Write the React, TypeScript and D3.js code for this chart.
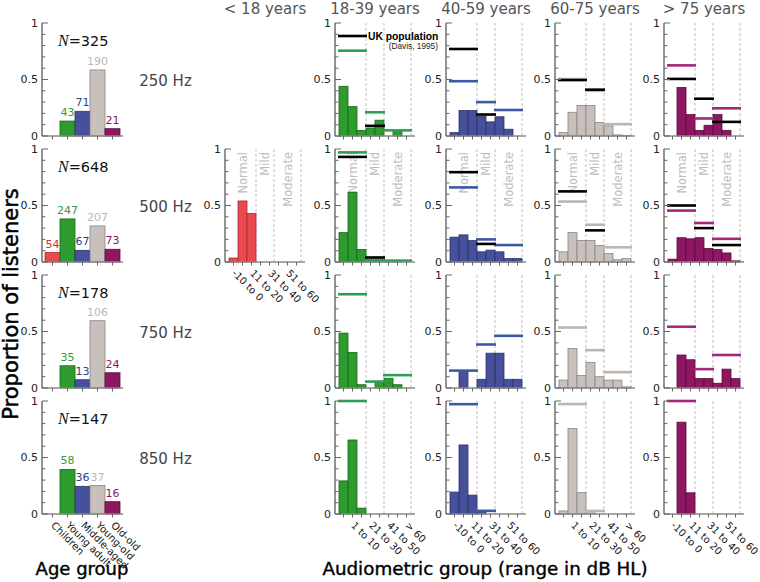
import React from "react";
import * as d3 from "d3";

// ---------- data ----------
const ageGroups = ["Children", "Young adult", "Middle-aged", "Young-old", "Old-old"];
const frequencies = ["250 Hz", "500 Hz", "750 Hz", "850 Hz"];
const totalN = [325, 648, 178, 147];
const ageCounts250 = [null, 43, 71, 190, 21];
const ageCounts500 = [54, 247, 67, 207, 73];
const ageCounts750 = [null, 35, 13, 106, 24];
const ageCounts850 = [null, 58, 36, 37, 16];

const ageColumns = ["< 18 years", "18-39 years", "40-59 years", "60-75 years", "> 75 years"];
const audioBins = ["-10 to 0", "1 to 10", "11 to 20", "21 to 30", "31 to 40", "41 to 50", "51 to 60", "> 60"];
const hearingCategories = ["Normal", "Mild", "Moderate"];
const categoryBins = [["-10 to 0", "11 to 20"], ["21 to 30", "31 to 40"], ["41 to 50", "> 60"]];

// histograms (proportion of listeners per audiometric bin)
const h500_u18 = [0.035, 0.54, 0.43, 0, 0, 0, 0, 0];

const h250_18_39 = [0.44, 0.26, 0.05, 0.07, 0.14, 0, 0.05, 0];
const h250_40_59 = [0.03, 0.225, 0.225, 0.175, 0.125, 0.17, 0.06, 0];
const h250_60_75 = [0.03, 0.21, 0.27, 0.27, 0.12, 0.09, 0.01, 0.005];
const h250_75p = [0, 0.43, 0.19, 0.05, 0.095, 0.19, 0.05, 0];

const h500_18_39 = [0.26, 0.615, 0.11, 0.02, 0.02, 0.01, 0.01, 0];
const h500_40_59 = [0.22, 0.24, 0.19, 0.09, 0.105, 0.09, 0.03, 0.03];
const h500_60_75 = [0.09, 0.26, 0.19, 0.19, 0.145, 0.075, 0.02, 0.03];
const h500_75p = [0.025, 0.215, 0.205, 0.215, 0.12, 0.11, 0.08, 0.01];

const h750_18_39 = [0.486, 0.314, 0.029, 0, 0.057, 0.086, 0.029, 0];
const h750_40_59 = [0, 0.154, 0, 0.077, 0.308, 0.308, 0.077, 0.077];
const h750_60_75 = [0.07, 0.35, 0.11, 0.225, 0.1, 0.07, 0.07, 0.01];
const h750_75p = [0, 0.292, 0.25, 0.083, 0.083, 0.042, 0.167, 0.083];

const h850_18_39 = [0.293, 0.655, 0.052, 0, 0, 0, 0, 0];
const h850_40_59 = [0.194, 0.611, 0.167, 0.028, 0, 0, 0, 0];
const h850_60_75 = [0.027, 0.757, 0.189, 0.027, 0, 0, 0, 0];
const h850_75p = [0, 0.8125, 0.1875, 0, 0, 0, 0, 0];

// category proportions: this study [Normal, Mild, Moderate]
const s250_18_39 = [0.755, 0.21, 0.05];
const s250_40_59 = [0.485, 0.3, 0.23];
const s250_60_75 = [0.505, 0.4, 0.105];
const s250_75p = [0.625, 0.155, 0.245];
const s500_18_39 = [0.97, 0.02, 0.012];
const s500_40_59 = [0.66, 0.2, 0.15];
const s500_60_75 = [0.535, 0.33, 0.13];
const s500_75p = [0.455, 0.345, 0.205];
const s750_18_39 = [0.83, 0.057, 0.114];
const s750_40_59 = [0.154, 0.385, 0.462];
const s750_60_75 = [0.535, 0.335, 0.14];
const s750_75p = [0.542, 0.167, 0.292];
const s850_18_39 = [1.0, null, null];
const s850_40_59 = [0.972, 0.028, null];
const s850_60_75 = [0.973, 0.027, null];
const s850_75p = [1.0, null, null];

// UK population (Davis, 1995) [Normal, Mild, Moderate]
const uk250_18_39 = [0.885, 0.09, null];
const uk250_40_59 = [0.77, 0.19, null];
const uk250_60_75 = [0.495, 0.41, null];
const uk250_75p = [0.505, 0.33, 0.125];
const uk500_18_39 = [0.93, 0.04, null];
const uk500_40_59 = [0.795, 0.16, null];
const uk500_60_75 = [0.625, 0.28, null];
const uk500_75p = [0.5, 0.3, 0.15];

// ---------- styling ----------
const barFill = ["#e84a50", "#2e9b2e", "#47519b", "#c7c0bc", "#8e1762"];
const barStroke = ["#a52c32", "#1c641c", "#2b3268", "#8c8581", "#5a0c3e"];
const lineColor = ["#e84a50", "#2e9d58", "#3b5aa6", "#bcb6b2", "#a4277a"];
const countColor = ["#d8283a", "#2e9b4a", "#2b3f8e", "#bdb7b3", "#8e1762"];

const FONT = "DejaVu Sans, sans-serif";
const ROW_BASE = [136, 262, 388, 514];
const PANEL_H = 113;
const COL_X = [225, 335, 446, 555, 664];
const AGE_X = 42;

const ageCountsByRow = [ageCounts250, ageCounts500, ageCounts750, ageCounts850];

const panels = [
  { row: 1, col: 0, hist: h500_u18, study: null, uk: null },
  { row: 0, col: 1, hist: h250_18_39, study: s250_18_39, uk: uk250_18_39 },
  { row: 0, col: 2, hist: h250_40_59, study: s250_40_59, uk: uk250_40_59 },
  { row: 0, col: 3, hist: h250_60_75, study: s250_60_75, uk: uk250_60_75 },
  { row: 0, col: 4, hist: h250_75p, study: s250_75p, uk: uk250_75p },
  { row: 1, col: 1, hist: h500_18_39, study: s500_18_39, uk: uk500_18_39 },
  { row: 1, col: 2, hist: h500_40_59, study: s500_40_59, uk: uk500_40_59 },
  { row: 1, col: 3, hist: h500_60_75, study: s500_60_75, uk: uk500_60_75 },
  { row: 1, col: 4, hist: h500_75p, study: s500_75p, uk: uk500_75p },
  { row: 2, col: 1, hist: h750_18_39, study: s750_18_39, uk: null },
  { row: 2, col: 2, hist: h750_40_59, study: s750_40_59, uk: null },
  { row: 2, col: 3, hist: h750_60_75, study: s750_60_75, uk: null },
  { row: 2, col: 4, hist: h750_75p, study: s750_75p, uk: null },
  { row: 3, col: 1, hist: h850_18_39, study: s850_18_39, uk: null },
  { row: 3, col: 2, hist: h850_40_59, study: s850_40_59, uk: null },
  { row: 3, col: 3, hist: h850_60_75, study: s850_60_75, uk: null },
  { row: 3, col: 4, hist: h850_75p, study: s850_75p, uk: null },
];

function YAxis({ x0, y }: { x0: number; y: any }) {
  const ticks = d3.range(0, 11).map((i) => i / 10);
  return (
    <g>
      <line x1={x0} x2={x0} y1={y(1)} y2={y(0)} stroke="#666" strokeWidth={1.4} />
      {ticks.map((t, i) => {
        const major = i % 5 === 0;
        return (
          <line key={i} x1={x0} x2={x0 + (major ? 6 : 3.5)} y1={y(t)} y2={y(t)} stroke="#666" strokeWidth={1} />
        );
      })}
      {[0, 0.5, 1].map((t) => (
        <text key={t} x={x0 - 4} y={y(t)} dy="0.35em" textAnchor="end" fontSize={11} fontFamily={FONT} fill="#222">
          {t === 0.5 ? "0.5" : String(t)}
        </text>
      ))}
    </g>
  );
}

function AudioPanel({ p }: { p: any }) {
  const x0 = COL_X[p.col];
  const base = ROW_BASE[p.row];
  const y = d3.scaleLinear().domain([0, 1]).range([base, base - PANEL_H]);
  const x = d3.scaleBand().domain(audioBins).range([x0 + 4, x0 + 76]).padding(0);
  const bw = x.bandwidth();
  const catStart = categoryBins.map((c) => x(c[0]) as number);
  const catEnd = categoryBins.map((c) => (x(c[1]) as number) + bw);
  const showCat = p.row === 1;
  const bottom = p.row === 3 || p.col === 0;
  const labelOdd = p.col === 1 || p.col === 3;
  return (
    <g>
      {catEnd.map((xe, i) => (
        <line key={"d" + i} x1={xe} x2={xe} y1={y(1)} y2={y(0)} stroke="#b8b8b8" strokeWidth={0.9} strokeDasharray="3,2" />
      ))}
      {showCat &&
        hearingCategories.map((c, i) => (
          <text
            key={c}
            transform={`translate(${(catStart[i] + catEnd[i]) / 2},${y(1) + 3}) rotate(-90)`}
            textAnchor="end"
            dominantBaseline="central"
            fontSize={11.5}
            fontFamily={FONT}
            fill="#bdbdbd"
          >
            {c}
          </text>
        ))}
      {p.hist.map((v: number, i: number) =>
        v > 0 ? (
          <rect
            key={"b" + i}
            x={x(audioBins[i])}
            y={y(v)}
            width={bw}
            height={y(0) - y(v)}
            fill={barFill[p.col]}
            stroke={barStroke[p.col]}
            strokeWidth={0.8}
          />
        ) : null
      )}
      {p.study &&
        p.study.map((v: number | null, i: number) =>
          v === null ? null : (
            <line key={"s" + i} x1={catStart[i] - 1} x2={catEnd[i] + 1} y1={y(v)} y2={y(v)} stroke={lineColor[p.col]} strokeWidth={2.6} />
          )
        )}
      {p.uk &&
        p.uk.map((v: number | null, i: number) =>
          v === null ? null : (
            <line key={"u" + i} x1={catStart[i] - 1} x2={catEnd[i] + 1} y1={y(v)} y2={y(v)} stroke="#000" strokeWidth={2.6} />
          )
        )}
      <line x1={x0} x2={x0 + 80} y1={y(0)} y2={y(0)} stroke="#888" strokeWidth={1.6} />
      {audioBins.map((b) => (
        <line key={"t" + b} x1={(x(b) as number) + bw / 2} x2={(x(b) as number) + bw / 2} y1={y(0)} y2={y(0) + 3.5} stroke="#666" strokeWidth={1} />
      ))}
      <YAxis x0={x0} y={y} />
      {bottom &&
        audioBins.map((b, i) =>
          (i % 2 === 1) === labelOdd ? (
            <text
              key={"l" + b}
              transform={`translate(${(x(b) as number) + bw / 2 - 2},${y(0) + 12}) rotate(45)`}
              fontSize={10}
              fontFamily={FONT}
              fill="#111"
            >
              {b}
            </text>
          ) : null
        )}
    </g>
  );
}

function AgePanel({ row }: { row: number }) {
  const base = ROW_BASE[row];
  const y = d3.scaleLinear().domain([0, 1]).range([base, base - PANEL_H]);
  const x = d3.scaleBand().domain(ageGroups).range([AGE_X + 3, AGE_X + 78]).padding(0);
  const bw = x.bandwidth();
  const counts = ageCountsByRow[row];
  const N = totalN[row];
  return (
    <g>
      {counts.map((c, i) => {
        if (c === null) return null;
        const v = c / N;
        const bx = x(ageGroups[i]) as number;
        return (
          <g key={i}>
            <rect x={bx} y={y(v)} width={bw} height={y(0) - y(v)} fill={barFill[i]} stroke={barStroke[i]} strokeWidth={0.8} />
            <text x={bx + bw / 2} y={y(v) - 5} textAnchor="middle" fontSize={11} fontFamily={FONT} fill={countColor[i]}>
              {c}
            </text>
          </g>
        );
      })}
      <line x1={AGE_X} x2={AGE_X + 81} y1={y(0)} y2={y(0)} stroke="#888" strokeWidth={1.6} />
      {ageGroups.map((g) => (
        <line key={g} x1={(x(g) as number) + bw / 2} x2={(x(g) as number) + bw / 2} y1={y(0)} y2={y(0) + 3.5} stroke="#666" strokeWidth={1} />
      ))}
      <YAxis x0={AGE_X} y={y} />
      <text x={58} y={y(1) + 23} fontSize={14.5} fontFamily={FONT} fill="#111">
        <tspan fontStyle="italic" fontFamily="Liberation Serif, serif" fontSize={16}>N</tspan>
        {"=" + N}
      </text>
      <text x={165.5} y={y(1) + 63} textAnchor="middle" fontSize={15} fontFamily={FONT} fill="#444">
        {frequencies[row]}
      </text>
      {row === 3 &&
        ageGroups.map((g) => (
          <text
            key={"l" + g}
            transform={`translate(${(x(g) as number) + bw / 2 - 2},${y(0) + 12}) rotate(45)`}
            fontSize={10}
            fontFamily={FONT}
            fill="#111"
          >
            {g}
          </text>
        ))}
    </g>
  );
}

export default function App() {
  return (
    <svg width={760} height={582} style={{ display: "block", position: "absolute", left: 0, top: 0, background: "#fff" }}>
      <rect width={760} height={582} fill="#fff" />
      {ageColumns.map((c, i) => (
        <text key={c} x={COL_X[i] + 40} y={13.5} textAnchor="middle" fontSize={15} fontFamily={FONT} fill="#555">
          {c}
        </text>
      ))}
      {[0, 1, 2, 3].map((r) => (
        <AgePanel key={r} row={r} />
      ))}
      {panels.map((p, i) => (
        <AudioPanel key={i} p={p} />
      ))}
      <text x={368} y={39.5} fontSize={10.3} fontWeight="bold" fontFamily="Liberation Sans, Arial, sans-serif" fill="#000">
        UK  population
      </text>
      <text x={438} y={48.5} textAnchor="end" fontSize={8.3} fontFamily="Liberation Sans, Arial, sans-serif" fill="#222">
        (Davis, 1995)
      </text>
      <text transform="translate(18,304) rotate(-90)" textAnchor="middle" fontSize={21} fontFamily={FONT} fill="#000" stroke="#000" strokeWidth={0.5}>
        Proportion of listeners
      </text>
      <text x={82} y={575} textAnchor="middle" fontSize={18} fontFamily={FONT} fill="#000" stroke="#000" strokeWidth={0.4}>
        Age group
      </text>
      <text x={485} y={575} textAnchor="middle" fontSize={18.3} fontFamily={FONT} fill="#000" stroke="#000" strokeWidth={0.4}>
        Audiometric group (range in dB HL)
      </text>
    </svg>
  );
}
